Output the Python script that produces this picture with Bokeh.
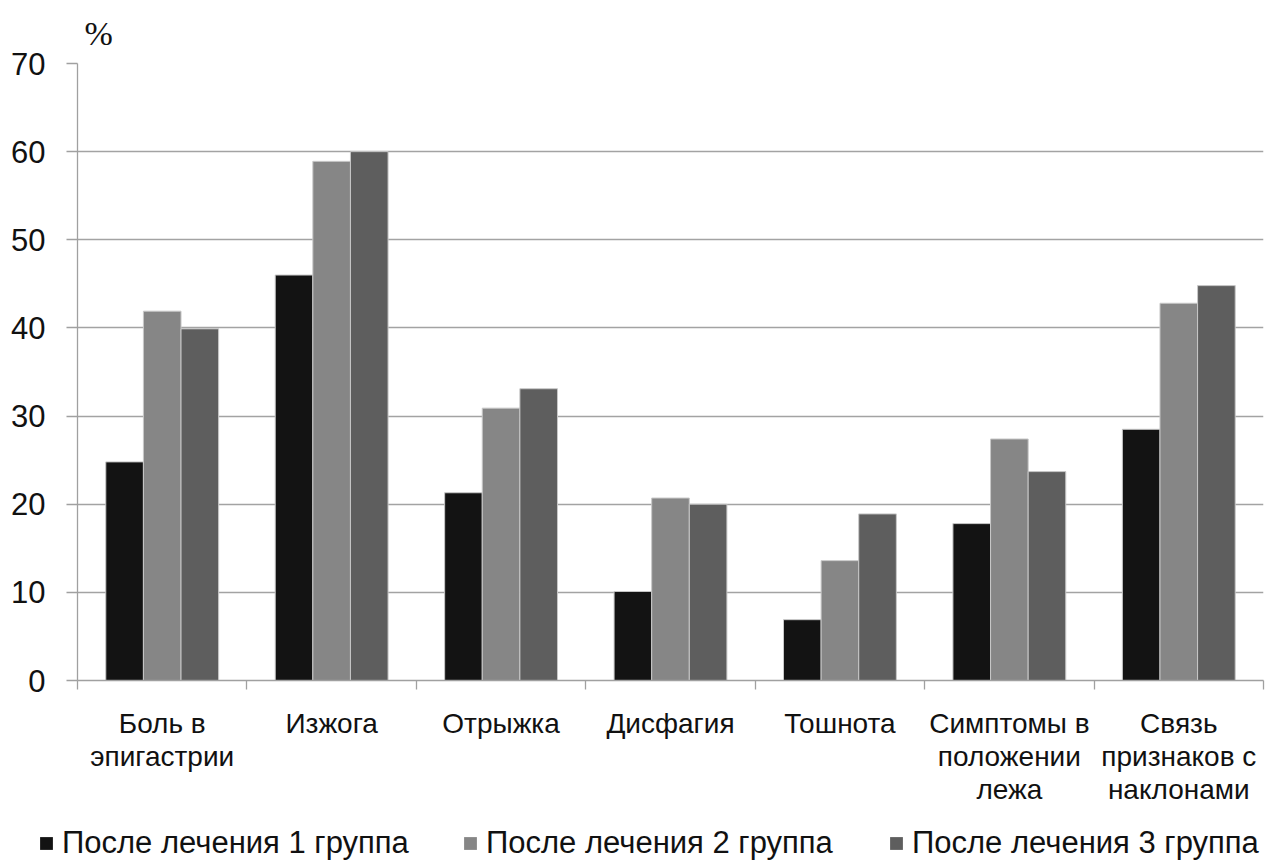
from bokeh.plotting import figure
from bokeh.layouts import column
from bokeh.models import Range1d, FixedTicker, Legend, LegendItem, Title
from bokeh.embed import file_html
from bokeh.resources import INLINE

# ---- data ----
categories = [
    "Боль в\nэпигастрии",
    "Изжога",
    "Отрыжка",
    "Дисфагия",
    "Тошнота",
    "Симптомы в\nположении\nлежа",
    "Связь\nпризнаков с\nнаклонами",
]
series_names = ["После лечения 1 группа", "После лечения 2 группа", "После лечения 3 группа"]
group1 = [24.8, 46.0, 21.3, 10.1, 6.9, 17.8, 28.5]
group2 = [41.9, 58.9, 30.9, 20.7, 13.6, 27.4, 42.8]
group3 = [39.9, 60.0, 33.1, 20.0, 18.9, 23.7, 44.8]
y_ticks = [0, 10, 20, 30, 40, 50, 60, 70]
y_unit_label = "%"

colors = ["#131313", "#868686", "#5e5e5e"]
FONT = "Liberation Sans"
AXIS_GREY = "#a0a0a0"
BAR_EDGE = "#c8c8c8"

W = 1266
n = len(categories)
centers = [i + 0.5 for i in range(n)]
bar_w = 0.222
offsets = [-bar_w, 0.0, bar_w]
series = [group1, group2, group3]

p = figure(width=W, height=810, x_range=Range1d(0, n), y_range=Range1d(0, 70),
           output_backend="svg", toolbar_location=None)
p.min_border_left = 77
p.min_border_right = 3
p.min_border_top = 62
p.min_border_bottom = 130
p.outline_line_color = None
p.background_fill_color = "white"
p.border_fill_color = "white"

# "%" unit label above the axis
p.title = Title(text=y_unit_label, align="left", offset=7, standoff=24,
                text_font="Liberation Serif", text_font_size="34px",
                text_line_height=0.8,
                text_font_style="normal", text_color="#111111")

# y axis
yax = p.yaxis[0]
yax.ticker = FixedTicker(ticks=y_ticks)
yax.minor_tick_line_color = None
yax.major_tick_out = 11
yax.major_tick_in = 0
yax.major_tick_line_color = AXIS_GREY
yax.major_tick_line_width = 1.3
yax.axis_line_color = AXIS_GREY
yax.axis_line_width = 1.3
yax.major_label_standoff = 21
yax.major_label_text_font = FONT
yax.major_label_text_font_size = "31px"
yax.major_label_text_color = "#111111"

# x axis: labels at category centres, ticks at category boundaries
xax = p.xaxis[0]
xax.ticker = FixedTicker(ticks=centers, minor_ticks=list(range(n + 1)))
xax.major_tick_out = 0
xax.major_tick_in = 0
xax.major_tick_line_color = None
xax.minor_tick_out = 9
xax.minor_tick_in = 0
xax.minor_tick_line_color = AXIS_GREY
xax.minor_tick_line_width = 1.3
xax.axis_line_color = AXIS_GREY
xax.axis_line_width = 1.3
xax.major_label_overrides = {c: cat for c, cat in zip(centers, categories)}
xax.major_label_text_font = FONT
xax.major_label_text_font_size = "28px"
xax.major_label_text_color = "#111111"
xax.major_label_text_line_height = 1.07
xax.major_label_standoff = 18

p.xgrid.visible = False
p.ygrid.ticker = FixedTicker(ticks=y_ticks)
p.ygrid.grid_line_color = "#a3a3a3"
p.ygrid.grid_line_width = 1.3

for vals, off, col in zip(series, offsets, colors):
    p.vbar(x=[c + off for c in centers], top=vals, width=bar_w, bottom=0,
           fill_color=col, line_color=BAR_EDGE, line_width=1)

# ---- legend strip below the chart ----
# same series drawn in a strip whose visible y-window lies far above the bars,
# so only the legend swatches show
q = figure(width=W, height=51, x_range=Range1d(0, n), y_range=Range1d(1000, 1001),
           output_backend="svg", toolbar_location=None,
           x_axis_type=None, y_axis_type=None)
q.min_border_left = 0
q.min_border_right = 0
q.min_border_top = 0
q.min_border_bottom = 0
q.outline_line_color = None
q.xgrid.visible = False
q.ygrid.visible = False
try:
    q.frame_align = False
except Exception:
    pass

leg_x = [38, 462, 888]
for nm, vals, off, col, lx in zip(series_names, series, offsets, colors, leg_x):
    r = q.vbar(x=[c + off for c in centers], top=vals, width=bar_w, bottom=0,
               fill_color=col, line_color=None)
    leg = Legend(items=[LegendItem(label=nm, renderers=[r])], location=(lx, 0),
                 orientation="horizontal", glyph_width=16, glyph_height=16,
                 label_standoff=8, padding=0, margin=0, border_line_color=None,
                 background_fill_alpha=0, label_text_font=FONT,
                 label_text_font_size="31px", label_text_color="#111111")
    q.add_layout(leg)

layout = column(p, q, spacing=0)
open("out.html", "w").write(file_html(layout, INLINE))
